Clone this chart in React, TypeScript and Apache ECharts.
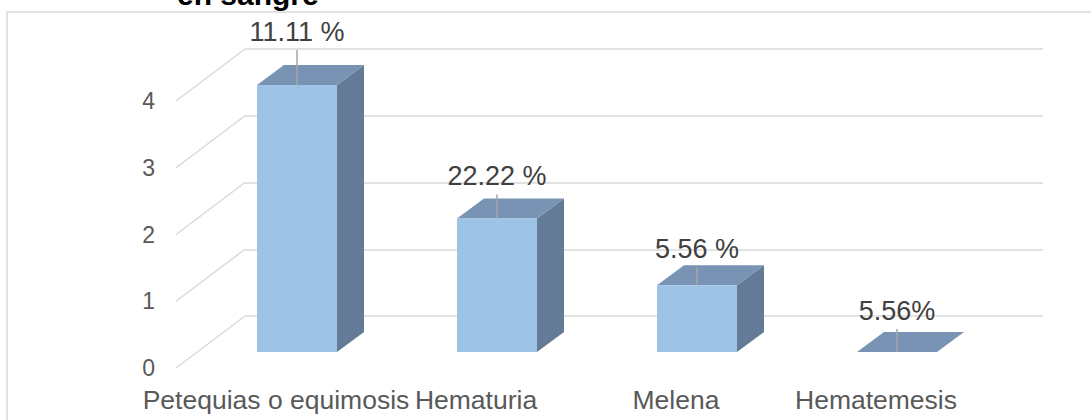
import React, { useEffect, useRef } from "react";
import * as echarts from "echarts";

const categories = ["Petequias o equimosis", "Hematuria", "Melena", "Hematemesis"];
const counts = [4, 2, 1, 0];
const percentLabels = ["11.11 %", "22.22 %", "5.56 %", "5.56%"];
const yTicks = [0, 1, 2, 3, 4];
const titleText = "en sangre";

// layout constants (not data)
const labelRaise = [44, 33, 27, 32];
const BAR_DX = 27;
const BAR_DY = 20;
const WALL_DX = 69;
const WALL_DY = 52;
const FONT = '"Liberation Sans", Arial, sans-serif';

export default function App() {
  const ref = useRef<HTMLDivElement>(null);
  useEffect(() => {
    if (!ref.current) return;
    const chart = echarts.init(ref.current, null, { renderer: "svg" });
    const hiddenCat = (gridIndex: number, show: boolean) => ({
      type: "category",
      gridIndex,
      data: categories,
      axisLine: { show: false },
      axisTick: { show: false },
      splitLine: { show: false },
      axisLabel: show
        ? { show: true, interval: 0, margin: 18, fontSize: 26.5, color: "#595959", fontFamily: FONT }
        : { show: false },
    });
    const valAxis = (gridIndex: number, splitShow: boolean, labelShow: boolean) => ({
      type: "value",
      gridIndex,
      min: 0,
      max: 4,
      interval: 1,
      axisLine: { show: false },
      axisTick: { show: false },
      splitLine: { show: splitShow, lineStyle: { color: "#d9d9d9", width: 1.5 } },
      axisLabel: labelShow
        ? { show: true, margin: 21, fontSize: 23, color: "#595959", fontFamily: FONT }
        : { show: false },
    });
    chart.setOption({
      animation: false,
      backgroundColor: "#ffffff",
      grid: [
        { left: 245, top: 49, width: 798, height: 267 },
        { left: 197, top: 85, width: 800, height: 267 },
        { left: 176, top: 101, width: 800, height: 267 },
      ],
      xAxis: [hiddenCat(0, false), hiddenCat(1, false), hiddenCat(2, true)],
      yAxis: [valAxis(0, true, false), valAxis(1, false, false), valAxis(2, false, true)],
      graphic: [
        {
          type: "rect",
          z: -10,
          shape: { x: 7, y: 12, width: 1200, height: 600 },
          style: { fill: "none", stroke: "#d9d9d9", lineWidth: 1.5 },
        },
        {
          type: "text",
          x: 177,
          y: -5.5,
          style: {
            text: titleText,
            fill: "#000000",
            font: `bold 30px ${FONT}`,
            textAlign: "left",
            textVerticalAlign: "middle",
          },
        },
      ],
      series: [
        {
          type: "custom",
          xAxisIndex: 2,
          yAxisIndex: 2,
          data: yTicks.map((v) => [0, v]),
          renderItem: (params: any, api: any) => {
            const p = api.coord([0, api.value(1)]);
            const bw = api.size([1, 0])[0];
            const x0 = p[0] - bw / 2;
            return {
              type: "line",
              shape: { x1: x0, y1: p[1], x2: x0 + WALL_DX, y2: p[1] - WALL_DY },
              style: { stroke: "#d9d9d9", lineWidth: 1.5 },
            };
          },
        },
        {
          type: "custom",
          xAxisIndex: 1,
          yAxisIndex: 1,
          data: counts.map((v, i) => [i, v]),
          renderItem: (params: any, api: any) => {
            const i = api.value(0);
            const v = api.value(1);
            const top = api.coord([i, v]);
            const base = api.coord([i, 0]);
            const bw = api.size([1, 0])[0] * 0.4;
            const xl = top[0] - bw / 2;
            const xr = xl + bw;
            const yt = top[1];
            const yb = base[1];
            const raise = labelRaise[params.dataIndex];
            const children: any[] = [];
            if (yb - yt > 0.5) {
              children.push({
                type: "polygon",
                shape: { points: [[xr, yt], [xr + BAR_DX, yt - BAR_DY], [xr + BAR_DX, yb - BAR_DY], [xr, yb]] },
                style: { fill: "#637b96" },
              });
            }
            children.push({
              type: "polygon",
              shape: { points: [[xl, yt], [xl + BAR_DX, yt - BAR_DY], [xr + BAR_DX, yt - BAR_DY], [xr, yt]] },
              style: { fill: "#7893b3" },
            });
            if (yb - yt > 0.5) {
              children.push({
                type: "rect",
                shape: { x: xl, y: yt, width: bw, height: yb - yt },
                style: { fill: "#9dc3e6" },
              });
            }
            children.push({
              type: "line",
              shape: { x1: top[0], y1: yt - raise + 9, x2: top[0], y2: yt },
              style: { stroke: "#a6a6a6", lineWidth: 1.5 },
            });
            children.push({
              type: "text",
              style: {
                text: percentLabels[params.dataIndex],
                x: top[0],
                y: yt - raise - 9.5,
                align: "center",
                verticalAlign: "middle",
                font: `27px ${FONT}`,
                fill: "#404040",
              },
            });
            return { type: "group", children };
          },
        },
      ],
    });
    return () => chart.dispose();
  }, []);
  return (
    <div
      ref={ref}
      style={{ position: "fixed", left: 0, top: 0, width: 1091, height: 420, background: "#fff" }}
    />
  );
}
